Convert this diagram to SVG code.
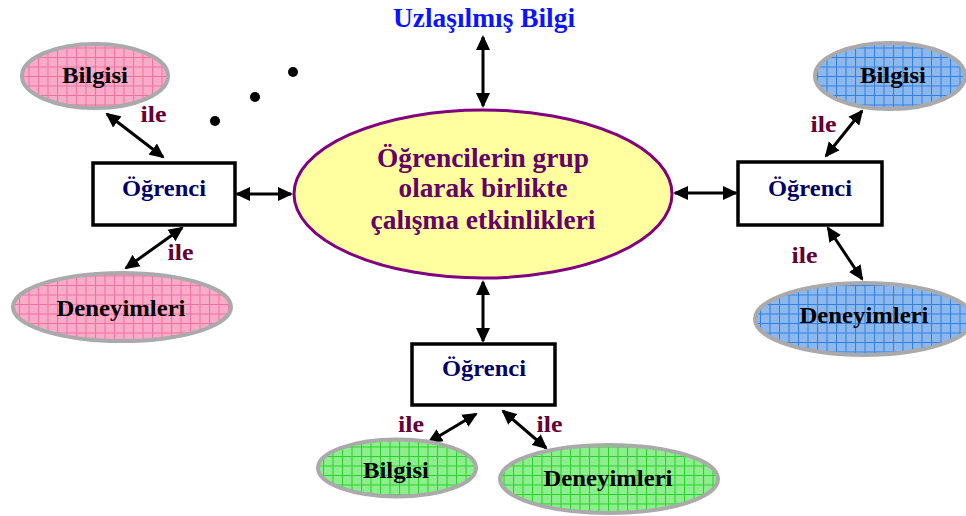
<svg xmlns="http://www.w3.org/2000/svg" width="966" height="516" viewBox="0 0 966 516">
<style>
text{font-family:"Liberation Serif","Times New Roman",serif;font-weight:bold;text-anchor:middle}
.lbl{font-size:24px;fill:#000}
.stu{font-size:24px;fill:#000066}
.ile{font-size:23px;fill:#660033}
.main{font-size:27px;fill:#660066}
.top{font-size:27px;fill:#0a14ff}
.box{fill:#fff;stroke:#000;stroke-width:3.5}
.oval{stroke:#aaaaaa;stroke-width:4}
.conn line{stroke:#000;stroke-width:3;marker-start:url(#ah);marker-end:url(#ah)}
</style>
<defs>
<marker id="ah" viewBox="0 0 15 15" markerUnits="userSpaceOnUse" markerWidth="15" markerHeight="15" refX="13" refY="7.5" orient="auto-start-reverse">
<path d="M0,0.5 L15,7.5 L0,14.5 z" fill="#000"/>
</marker>
<pattern id="pinkG" width="9.5" height="9.5" patternUnits="userSpaceOnUse">
<rect width="9.5" height="9.5" fill="#f9abc8"/>
<path d="M0,0.5 H9.5 M0.5,0 V9.5" stroke="#f070a2" stroke-width="1"/>
</pattern>
<pattern id="blueG" width="9.5" height="9.5" patternUnits="userSpaceOnUse">
<rect width="9.5" height="9.5" fill="#8cb8ee"/>
<path d="M0,0.5 H9.5 M0.5,0 V9.5" stroke="#3080e2" stroke-width="1"/>
</pattern>
<pattern id="greenG" width="9.5" height="9.5" patternUnits="userSpaceOnUse">
<rect width="9.5" height="9.5" fill="#8cee8c"/>
<path d="M0,0.5 H9.5 M0.5,0 V9.5" stroke="#2ad02a" stroke-width="1"/>
</pattern>
</defs>
<rect width="966" height="516" fill="#fff"/>

<g class="conn" id="connectors">
<line x1="483" y1="37" x2="483" y2="106"/>
<line x1="237" y1="194" x2="291" y2="194"/>
<line x1="675" y1="193" x2="736" y2="193"/>
<line x1="483" y1="282" x2="483" y2="341"/>
<line x1="107" y1="114" x2="163" y2="157"/>
<line x1="182" y1="228" x2="126" y2="268"/>
<line x1="826" y1="156" x2="862" y2="111"/>
<line x1="828" y1="228" x2="862" y2="279"/>
<line x1="476" y1="414" x2="429" y2="442"/>
<line x1="503" y1="411" x2="546" y2="448"/>
</g>

<g id="dots">
<circle cx="293" cy="72" r="5" fill="#000"/>
<circle cx="255" cy="97" r="5" fill="#000"/>
<circle cx="215" cy="121" r="5" fill="#000"/>
</g>

<g id="uzlasilmis">
<text class="top" x="484" y="27" textLength="182" lengthAdjust="spacingAndGlyphs">Uzlaşılmış Bilgi</text>
</g>

<g id="center">
<ellipse cx="483" cy="194" rx="189" ry="84" fill="#ffffa0" stroke="#800080" stroke-width="3"/>
<text class="main" x="483" y="167" textLength="212" lengthAdjust="spacingAndGlyphs">Öğrencilerin grup</text>
<text class="main" x="483" y="197" textLength="169" lengthAdjust="spacingAndGlyphs">olarak birlikte</text>
<text class="main" x="483" y="229" textLength="225" lengthAdjust="spacingAndGlyphs">çalışma etkinlikleri</text>
</g>

<g id="ogrenci-left">
<rect class="box" x="93" y="163" width="142" height="62"/>
<text class="stu" x="164" y="196" textLength="84" lengthAdjust="spacingAndGlyphs">Öğrenci</text>
</g>
<g id="ogrenci-right">
<rect class="box" x="738" y="162" width="144" height="63"/>
<text class="stu" x="810" y="196" textLength="84" lengthAdjust="spacingAndGlyphs">Öğrenci</text>
</g>
<g id="ogrenci-bottom">
<rect class="box" x="412" y="344" width="143" height="61"/>
<text class="stu" x="484" y="376" textLength="84" lengthAdjust="spacingAndGlyphs">Öğrenci</text>
</g>

<g id="bilgisi-left">
<ellipse class="oval" cx="95" cy="76" rx="73" ry="32" fill="url(#pinkG)"/>
<text class="lbl" x="95" y="83" textLength="66" lengthAdjust="spacingAndGlyphs">Bilgisi</text>
</g>
<g id="deneyimleri-left">
<ellipse class="oval" cx="122" cy="307" rx="109" ry="34" fill="url(#pinkG)"/>
<text class="lbl" x="121" y="316" textLength="129" lengthAdjust="spacingAndGlyphs">Deneyimleri</text>
</g>
<g id="bilgisi-right">
<ellipse class="oval" cx="890" cy="76" rx="75" ry="33" fill="url(#blueG)"/>
<text class="lbl" x="893" y="83" textLength="66" lengthAdjust="spacingAndGlyphs">Bilgisi</text>
</g>
<g id="deneyimleri-right">
<ellipse class="oval" cx="864" cy="319" rx="109" ry="36" fill="url(#blueG)"/>
<text class="lbl" x="864" y="323" textLength="129" lengthAdjust="spacingAndGlyphs">Deneyimleri</text>
</g>
<g id="bilgisi-bottom">
<ellipse class="oval" cx="397" cy="468" rx="79" ry="28.5" fill="url(#greenG)"/>
<text class="lbl" x="396" y="478" textLength="66" lengthAdjust="spacingAndGlyphs">Bilgisi</text>
</g>
<g id="deneyimleri-bottom">
<ellipse class="oval" cx="609" cy="479" rx="109" ry="34" fill="url(#greenG)"/>
<text class="lbl" x="608" y="486" textLength="129" lengthAdjust="spacingAndGlyphs">Deneyimleri</text>
</g>

<g id="ile-labels">
<text class="ile" x="153.5" y="122" textLength="26" lengthAdjust="spacingAndGlyphs">ile</text>
<text class="ile" x="180.5" y="260" textLength="26" lengthAdjust="spacingAndGlyphs">ile</text>
<text class="ile" x="823.5" y="132" textLength="26" lengthAdjust="spacingAndGlyphs">ile</text>
<text class="ile" x="804.5" y="263" textLength="26" lengthAdjust="spacingAndGlyphs">ile</text>
<text class="ile" x="411" y="432" textLength="26" lengthAdjust="spacingAndGlyphs">ile</text>
<text class="ile" x="549.5" y="432" textLength="26" lengthAdjust="spacingAndGlyphs">ile</text>
</g>
</svg>
